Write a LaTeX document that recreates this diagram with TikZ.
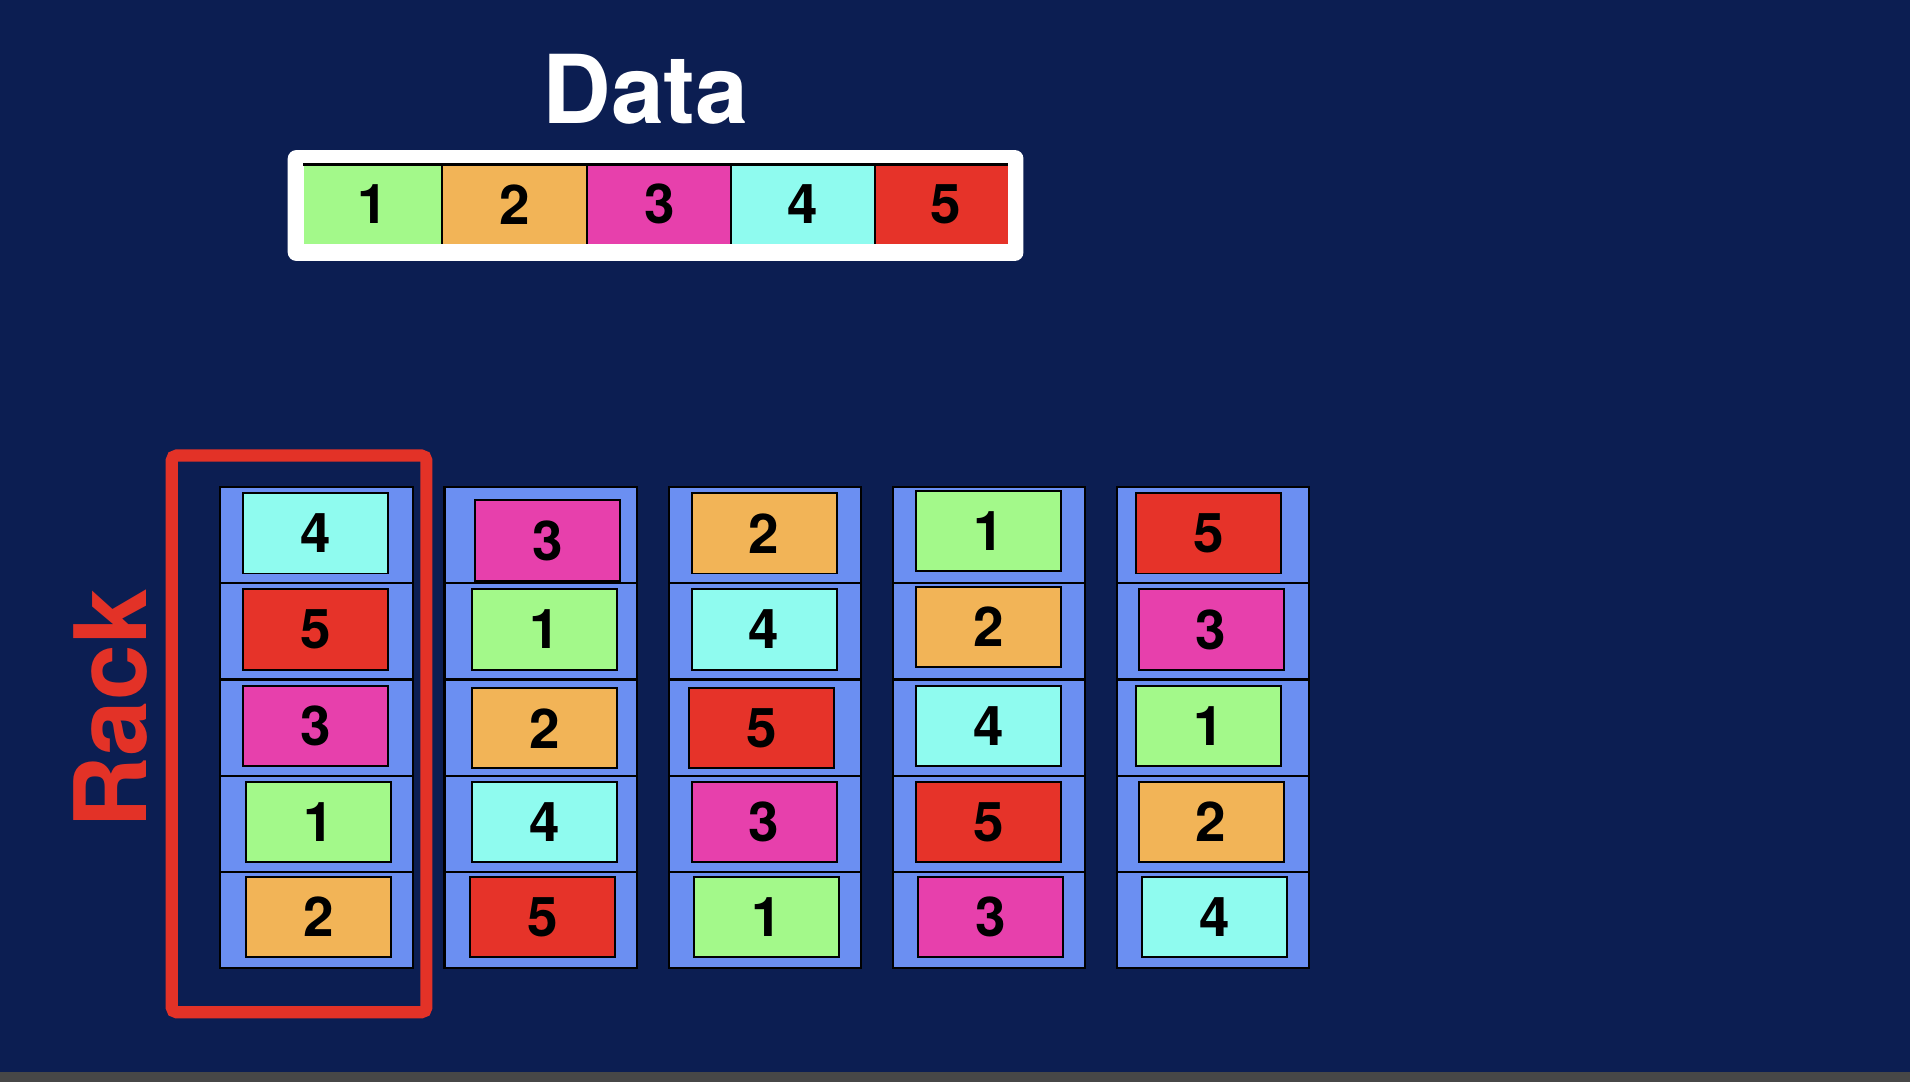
\documentclass[tikz,border=0pt]{standalone}
\usepackage{fontspec}
\setmainfont{TeX Gyre Heros}
\definecolor{bg}{HTML}{0C1E52}
\definecolor{cg}{HTML}{A3F98A}
\definecolor{co}{HTML}{F2B457}
\definecolor{cm}{HTML}{E740AC}
\definecolor{cc}{HTML}{8FFBEF}
\definecolor{cr}{HTML}{E63329}
\definecolor{colblue}{HTML}{6B8FF2}
\definecolor{rackred}{HTML}{E33227}
\definecolor{band}{HTML}{474747}
\begin{document}
\begin{tikzpicture}[x=1pt,y=-1pt,
  digit/.style={font=\fontsize{45}{47}\selectfont\bfseries, text=black, yshift=1pt},
  blk/.style={draw=black, line width=1.6pt, anchor=north west, inner sep=0pt,
    minimum width=119pt, minimum height=66pt, digit},
  slot/.style={draw=black, line width=1.8pt, fill=colblue, anchor=north west, inner sep=0pt,
    minimum width=158pt, minimum height=79pt},
  cell/.style={fill=#1, anchor=north west, inner sep=0pt, minimum height=65pt, digit}]
\fill[bg] (0,0) rectangle (1568,888);
\fill[band] (0,880) rectangle (1568,888);
\useasboundingbox (0,0) rectangle (1568,888);
% title
\node[text=white, font=\fontsize{78}{80}\selectfont\bfseries] (title) at (530,73) {Data};
% data bar
\node[fill=white, rounded corners=7pt, anchor=north west, inner sep=0pt,
  minimum width=604pt, minimum height=91pt] (frame) at (236,123) {};
\node[cell=cg, minimum width=114pt] (d1) at (249,136) {1};
\node[cell=co, minimum width=119pt] (d2) at (363,136) {2};
\node[cell=cm, minimum width=118pt] (d3) at (482,136) {3};
\node[cell=cc, minimum width=118pt] (d4) at (600,136) {4};
\node[cell=cr, minimum width=109pt, text depth=0pt] (d5) at (718,136) {\hspace*{8pt}5};
\draw[line width=1.8pt] (d1.north west) -- (d5.north east);
\foreach \n in {2,3,4,5}{\draw[line width=1.5pt] (d\n.north west) -- (d\n.south west);}
% rack frame
\draw[rackred, line width=10pt, rounded corners=4pt] (141,374) rectangle (350,831);
\node[text=rackred, rotate=90, font=\fontsize{82}{84}\selectfont\bfseries] (rack) at (91,582) {Rack};
% columns
\foreach \cx [count=\c] in {180,364,548,732,916}{
  \foreach \s in {0,...,4}{
    \node[slot] (s\c\s) at (\cx,399+79*\s) {};
  }
}
% blocks
\node[blk, fill=cc] (b11) at (199,405) {4};
\node[blk, fill=cr] (b12) at (199,484) {5};
\node[blk, fill=cm] (b13) at (199,563) {3};
\node[blk, fill=cg] (b14) at (201,642) {1};
\node[blk, fill=co] (b15) at (201,720) {2};
\node[blk, fill=cm] (b21) at (389,411) {3};
\node[blk, fill=cg] (b22) at (387,484) {1};
\node[blk, fill=co] (b23) at (387,565) {2};
\node[blk, fill=cc] (b24) at (387,642) {4};
\node[blk, fill=cr] (b25) at (385,720) {5};
\node[blk, fill=co] (b31) at (567,405) {2};
\node[blk, fill=cc] (b32) at (567,484) {4};
\node[blk, fill=cr] (b33) at (565,565) {5};
\node[blk, fill=cm] (b34) at (567,642) {3};
\node[blk, fill=cg] (b35) at (569,720) {1};
\node[blk, fill=cg] (b41) at (751,403) {1};
\node[blk, fill=co] (b42) at (751,482) {2};
\node[blk, fill=cc] (b43) at (751,563) {4};
\node[blk, fill=cr] (b44) at (751,642) {5};
\node[blk, fill=cm] (b45) at (753,720) {3};
\node[blk, fill=cr] (b51) at (932,405) {5};
\node[blk, fill=cm] (b52) at (934,484) {3};
\node[blk, fill=cg] (b53) at (932,563) {1};
\node[blk, fill=co] (b54) at (934,642) {2};
\node[blk, fill=cc] (b55) at (937,720) {4};
\end{tikzpicture}
\end{document}
